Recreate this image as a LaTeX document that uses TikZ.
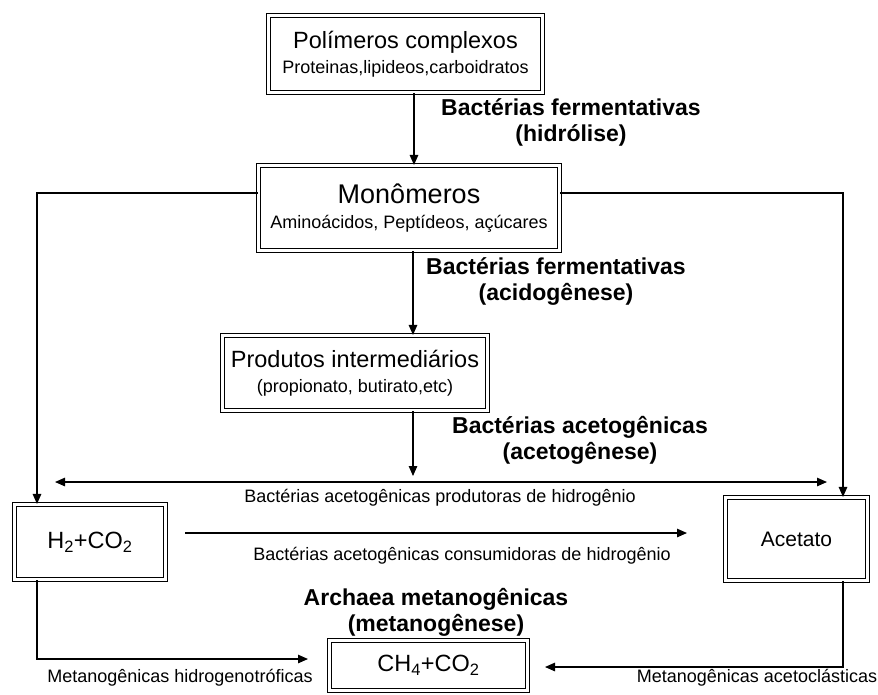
\documentclass[tikz,border=0pt]{standalone}
\usepackage{fontspec}
\setmainfont{Liberation Sans}
\usetikzlibrary{arrows.meta}

\tikzset{
 caixa/.style={draw, double, double distance=2.6pt, line width=1.1pt, align=center, inner sep=0pt, font=\fontsize{23.5}{25}\selectfont},
 seta/.style={-{Triangle[length=10pt,width=8.5pt]}, line width=1.2pt},
 etapa/.style={align=center, font=\bfseries\fontsize{23}{26}\selectfont},
 rotulo/.style={font=\fontsize{18}{21}\selectfont},
}
\newcommand{\subtexto}[1]{{\fontsize{18}{25}\selectfont #1}}

\begin{document}
\begin{tikzpicture}[x=1pt,y=-1pt]
\useasboundingbox (0,0) rectangle (878,694);

\node[caixa, minimum width=274, minimum height=77] (poli) at (405.5,54) {Polímeros complexos\\ \subtexto{Proteinas,lipideos,carboidratos}};
\node[caixa, minimum width=301, minimum height=85] (mono) at (409,208) {{\fontsize{27}{25}\selectfont Monômeros}\\ \subtexto{Aminoácidos, Peptídeos, açúcares}};
\node[caixa, minimum width=265, minimum height=75] (prod) at (355,373) {Produtos intermediários\\ \subtexto{(propionato, butirato,etc)}};
\node[caixa, minimum width=151, minimum height=75] (h2) at (90,542) {H\textsubscript{2}+CO\textsubscript{2}};
\node[caixa, minimum width=142, minimum height=83, font=\fontsize{21}{25}\selectfont] (acet) at (796.5,539) {Acetato};
\node[caixa, minimum width=198, minimum height=50] (ch4) at (428.5,665.5) {CH\textsubscript{4}+CO\textsubscript{2}};

% etapas
\node[etapa] (e1) at (571,122) {Bactérias fermentativas\\(hidrólise)};
\node[etapa] (e2) at (556,281) {Bactérias fermentativas\\(acidogênese)};
\node[etapa] (e3) at (580,440) {Bactérias acetogênicas\\(acetogênese)};
\node[etapa] (e4) at (436,612) {Archaea metanogênicas\\(metanogênese)};

\coordinate (c1) at (413,476);
\coordinate (hl) at (55,482);
\coordinate (hr) at (827,482);
\coordinate (ca) at (185,533);
\coordinate (cb) at (687,533);
\coordinate (ml) at (308,659);
\coordinate (mr) at (545,667);

\draw[seta] ([xshift=8.5pt]poli.south) -- ([xshift=8.5pt]poli.south |- mono.north);
\draw[seta] ([xshift=4pt]mono.south) -- ([xshift=4pt]mono.south |- prod.north);
\draw[seta] ([xshift=58pt]prod.south) -- (c1);
\draw[seta] ([yshift=15pt]mono.west) -| ([xshift=-53pt]h2.north);
\draw[seta] ([yshift=15pt]mono.east) -| ([xshift=46.5pt]acet.north);
\draw[seta, {Triangle[length=10pt,width=8.5pt]}-{Triangle[length=10pt,width=8.5pt]}] (hl) -- (hr);
\draw[seta] (ca) -- (cb);
\draw[seta] ([xshift=-53pt]h2.south) |- (ml);
\draw[seta] ([xshift=46.5pt]acet.south) |- (mr);

\node[rotulo] (r1) at (440,498) {Bactérias acetogênicas produtoras de hidrogênio};
\node[rotulo] (r2) at (462,556) {Bactérias acetogênicas consumidoras de hidrogênio};
\node[rotulo] (r3) at (180,678) {Metanogênicas hidrogenotróficas};
\node[rotulo] (r4) at (757,678) {Metanogênicas acetoclásticas};
\end{tikzpicture}
\end{document}
